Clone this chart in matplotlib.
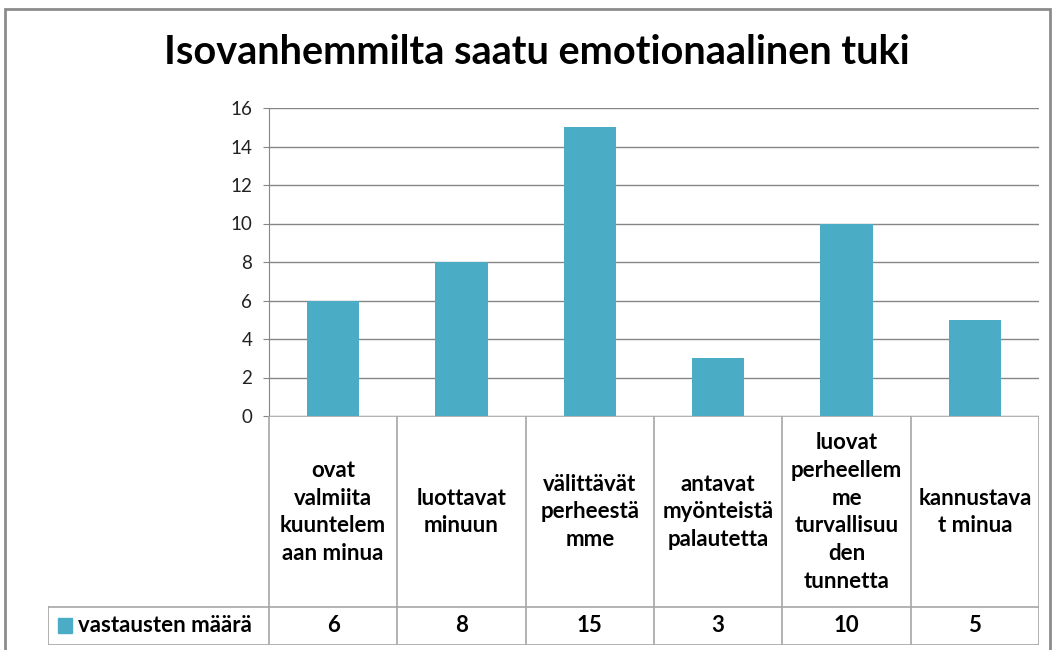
import matplotlib.pyplot as plt
from matplotlib.patches import Rectangle

categories = ['ovat\nvalmiita\nkuuntelem\naan minua', 'luottavat\nminuun',
              'välittävät\nperheestä\nmme', 'antavat\nmyönteistä\npalautetta',
              'luovat\nperheellem\nme\nturvallisuu\nden\ntunnetta', 'kannustava\nt minua']
values = [6, 8, 15, 3, 10, 5]
series_name = 'vastausten määrä'
title = 'Isovanhemmilta saatu emotionaalinen tuki'
yticks = [0, 2, 4, 6, 8, 10, 12, 14, 16]

BAR = '#4BACC6'
GRID = '#868686'
plt.rcParams['font.family'] = ['Lato', 'DejaVu Sans']

W, H = 1054, 650
fig = plt.figure(figsize=(W / 100, H / 100), dpi=100)

def px(x0, y0, x1, y1):
    return [x0 / W, 1 - y1 / H, (x1 - x0) / W, (y1 - y0) / H]

# outer chart border
fig.patches.append(Rectangle((5 / W, -0.1), (1045 / W), 1 - 9 / H + 0.1,
                             transform=fig.transFigure, fill=False,
                             edgecolor='#8c8c8c', linewidth=2))

fig.text(537 / W, 1 - 53 / H, title, ha='center', va='center',
         fontsize=28.5, fontweight='bold')

n = len(values)
ax = fig.add_axes(px(269, 108, 1039, 416))
ax.bar(range(n), values, width=0.41, color=BAR, zorder=3)
ax.set_xlim(-0.5, n - 0.5)
ax.set_ylim(0, 16)
ax.set_yticks(yticks)
ax.set_xticks([])
ax.grid(axis='y', color=GRID, linewidth=1, zorder=0)
for s in ['top', 'right', 'bottom']:
    ax.spines[s].set_visible(False)
ax.spines['left'].set_color(GRID)
ax.tick_params(axis='y', colors=GRID, labelcolor='#222222', labelsize=13.5,
               length=4, pad=8)

# data table below
left = -0.5 - (269 - 48) / ((1039 - 269) / n)
tab = fig.add_axes(px(48, 416, 1039, 645))
tab.set_xlim(left, n - 0.5)
tab.set_ylim(0, 229)
tab.axis('off')
lc = dict(color='#a6a6a6', linewidth=1.2)
tab.plot([left, n - 0.5], [0, 0], **lc)
tab.plot([left, n - 0.5], [38, 38], **lc)
tab.plot([-0.5, n - 0.5], [229, 229], **lc)
tab.plot([left, left], [0, 38], **lc)
for i in range(n + 1):
    tab.plot([i - 0.5, i - 0.5], [0, 229], **lc)
for i, (c, v) in enumerate(zip(categories, values)):
    tab.text(i, 133, c, ha='center', va='center', fontsize=16,
             fontweight='bold', linespacing=1.4)
    tab.text(i, 19, str(v), ha='center', va='center', fontsize=16,
             fontweight='bold')
tab.add_patch(Rectangle((left + 0.08, 12), 0.11, 15, color=BAR))
tab.text(left + 0.23, 19, series_name, ha='left', va='center', fontsize=16,
         fontweight='bold')

fig.savefig('out.png', dpi=100)
